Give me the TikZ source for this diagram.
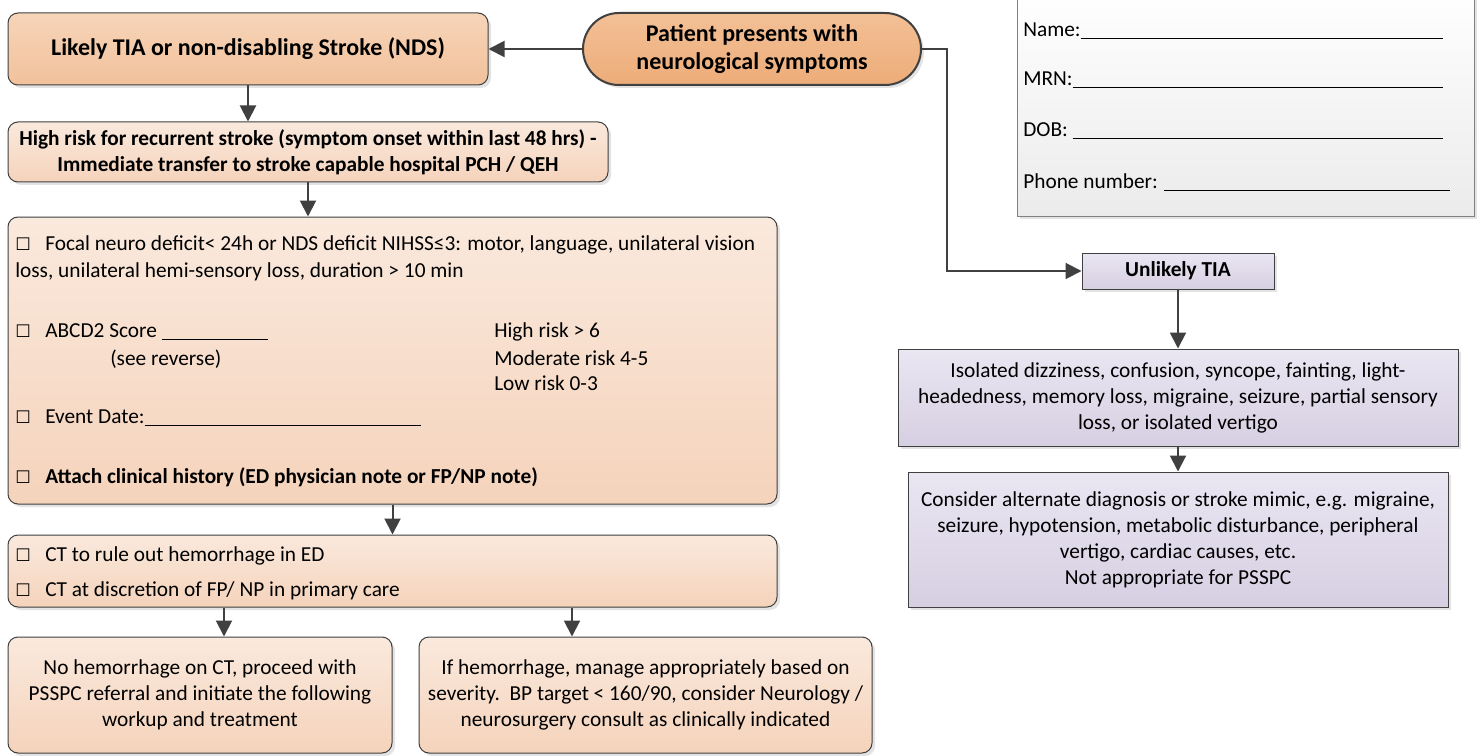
\documentclass[tikz,border=0pt]{standalone}
\usepackage{fontspec}
\setmainfont{Carlito}
\newfontfamily\symfont{DejaVu Sans}
\usetikzlibrary{arrows.meta,shadows}

\definecolor{tialine}{RGB}{64,64,64}
\definecolor{tiaframe}{RGB}{128,128,128}
\definecolor{tiapatA}{RGB}{243,192,150}
\definecolor{tiapatB}{RGB}{237,172,121}
\definecolor{tialikA}{RGB}{247,213,185}
\definecolor{tialikB}{RGB}{241,193,155}
\definecolor{tiapeachA}{RGB}{250,233,221}
\definecolor{tiapeachB}{RGB}{245,211,187}
\definecolor{tialilacA}{RGB}{234,230,242}
\definecolor{tialilacB}{RGB}{214,207,226}
\definecolor{tiagrey}{RGB}{235,235,235}

\newcommand\chk{\makebox[22.5pt][l]{\fontsize{13}{13}\symfont ☐}}
\newcommand\blankline[1]{\rule[-2pt]{#1}{0.7pt}}

\begin{document}
\begin{tikzpicture}[x=0.75pt, y=-0.75pt,
  font=\fontsize{16}{19.5}\selectfont,
  tiabox/.style={draw=tialine, line width=0.75pt, inner sep=0pt, align=center,
    drop shadow={shadow xshift=2.25pt, shadow yshift=-2.25pt, opacity=0.22}},
  peachbox/.style={tiabox, rounded corners=7.5pt, top color=tiapeachA, bottom color=tiapeachB},
  lilacbox/.style={tiabox, top color=tialilacA, bottom color=tialilacB},
  boldtext/.style={font=\fontsize{16}{19.5}\selectfont\bfseries},
  bigtext/.style={font=\fontsize{18}{21}\selectfont\bfseries},
  linetext/.style={anchor=mid west, inner sep=0pt},
  arr/.style={draw=tialine, line width=1.5pt, -{Triangle[length=12pt,width=12pt]}}]
\fill[white] (0,0) rectangle (1477,756);
\useasboundingbox (0,0) rectangle (1477,756);

%% left branch: likely TIA
\node[tiabox, bigtext, rounded corners=7.5pt, top color=tialikA, bottom color=tialikB,
  minimum width=360pt, minimum height=54pt] (likely) at (248,49) {Likely TIA or non-disabling Stroke (NDS)};
\node[tiabox, bigtext, rounded corners=27pt, line width=1.5pt, top color=tiapatA, bottom color=tiapatB,
  minimum width=253.5pt, minimum height=54pt] (patient) at (752,49) {Patient presents with\\neurological symptoms};
\node[peachbox, boldtext, minimum width=450pt, minimum height=45pt] (highrisk) at (308,152)
  {High risk for recurrent stroke (symptom onset within last 48 hrs) -\\Immediate transfer to stroke capable hospital PCH / QEH};

%% checklist
\node[peachbox, minimum width=576.75pt, minimum height=215.25pt] (checks) at (392.5,360.5) {};
\node[linetext] (focal) at (15,247) {\chk Focal neuro deficit< 24h or NDS deficit NIHSS≤3: motor, language, unilateral vision};
\node[linetext] (focalb) at (15,274) {loss, unilateral hemi-sensory loss, duration > 10 min};
\node[linetext] (abcd) at (15,334) {\chk ABCD2 Score \blankline{79.5pt}};
\node[linetext] (abcdb) at (110,362) {(see reverse)};
\node[linetext] (riskhi) at (494,334) {High risk > 6};
\node[linetext] (riskmid) at (494,362) {Moderate risk 4-5};
\node[linetext] (risklow) at (494,387) {Low risk 0-3};
\node[linetext] (event) at (15,420) {\chk Event Date:\blankline{207pt}};
\node[linetext, boldtext] (attach) at (15,480) {\chk Attach clinical history (ED physician note or FP/NP note)};

%% imaging
\node[peachbox, minimum width=576.75pt, minimum height=54pt] (ctscan) at (392.5,571) {};
\node[linetext] (cta) at (15,558) {\chk CT to rule out hemorrhage in ED};
\node[linetext] (ctb) at (15,593) {\chk CT at discretion of FP/ NP in primary care};
\node[peachbox, minimum width=288pt, minimum height=87pt] (nobleed) at (200,695)
  {No hemorrhage on CT, proceed with\\PSSPC referral and initiate the following\\workup and treatment};
\node[peachbox, minimum width=339.75pt, minimum height=87pt] (bleed) at (645.5,695)
  {If hemorrhage, manage appropriately based on\\severity.\ \ BP target < 160/90, consider Neurology /\\neurosurgery consult as clinically indicated};

%% patient label
\node[tiabox, draw=tiaframe, top color=white, bottom color=tiagrey,
  minimum width=342.75pt, minimum height=169.5pt] (idcard) at (1245.5,103) {};
\node[linetext] (name) at (1023,33) {Name:\blankline{271.5pt}};
\node[linetext] (mrn) at (1023,82) {MRN:\blankline{277.5pt}};
\node[linetext] (dob) at (1023,133) {DOB: \blankline{277.5pt}};
\node[linetext] (phone) at (1023,185) {Phone number: \blankline{214.5pt}};

%% right branch: unlikely TIA
\node[lilacbox, boldtext, minimum width=144pt, minimum height=27pt] (unlikely) at (1178,271) {Unlikely TIA};
\node[lilacbox, minimum width=420pt, minimum height=72.75pt] (isolated) at (1178,397.5)
  {Isolated dizziness, confusion, syncope, fainting, light-\\headedness, memory loss, migraine, seizure, partial sensory\\loss, or isolated vertigo};
\node[lilacbox, minimum width=405pt, minimum height=101.25pt] (mimic) at (1178,539.5)
  {Consider alternate diagnosis or stroke mimic, e.g. migraine,\\seizure, hypotension, metabolic disturbance, peripheral\\vertigo, cardiac causes, etc.\\Not appropriate for PSSPC};

%% connectors
\coordinate (splitL) at (224,0);
\coordinate (splitR) at (572,0);
\draw[arr] (patient.west) -- (likely.east);
\draw[arr] (patient.east) -- ++(25,0) |- (unlikely.west);
\draw[arr] (likely.south) -- (likely.south |- highrisk.north);
\draw[arr] (highrisk.south) -- (highrisk.south |- checks.north);
\draw[arr] (checks.south) -- (ctscan.north);
\draw[arr] (ctscan.south -| splitL) -- (nobleed.north -| splitL);
\draw[arr] (ctscan.south -| splitR) -- (bleed.north -| splitR);
\draw[arr] (unlikely) -- (isolated);
\draw[arr] (isolated) -- (mimic);
\end{tikzpicture}
\end{document}
